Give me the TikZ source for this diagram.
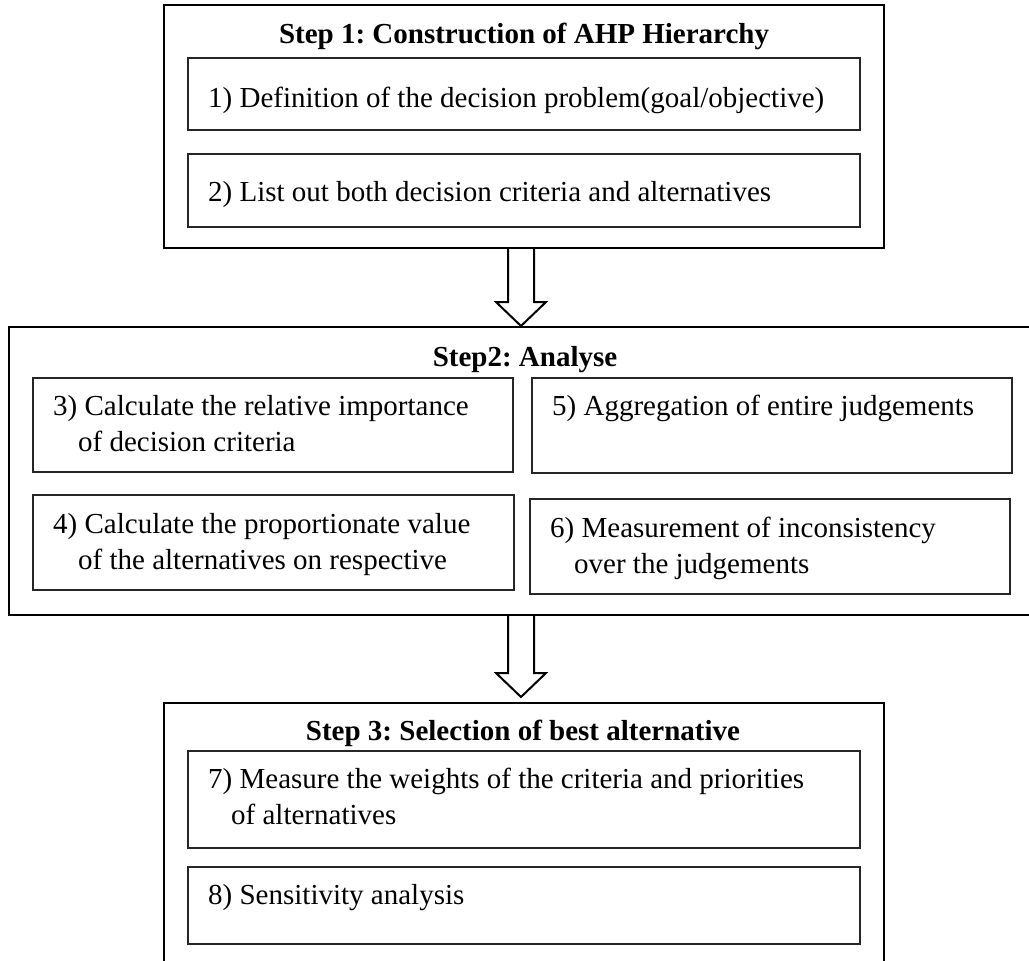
\documentclass[tikz,border=0pt]{standalone}
\usepackage{fontspec}
\setmainfont{Liberation Serif}
\usetikzlibrary{calc}
\frenchspacing

\tikzset{
  stagebox/.style={draw=black, line width=2pt, rectangle, inner sep=0pt},
  taskbox/.style={draw=black!85, line width=1.4pt, rectangle, inner sep=0pt},
  heading/.style={anchor=base, inner sep=0pt, font=\fontsize{29}{36}\selectfont\bfseries},
  % multi-line texts are anchored on the baseline of their last line
  tasktext/.style={anchor=base west, inner sep=0pt, align=left, font=\fontsize{29}{36}\selectfont},
  blockarrow/.style={draw=black, line width=2pt, line join=miter},
}

% hollow down arrow from #1 (top of the shaft) to #2 (tip)
\newcommand{\hollowarrow}[2]{%
  \fill[white] ($(#1)+(-13,0)$) -- ($(#2)+(-13,-24)$) -- ($(#2)+(-25,-24)$) -- (#2)
    -- ($(#2)+(25,-24)$) -- ($(#2)+(13,-24)$) -- ($(#1)+(13,0)$) -- cycle;
  \draw[blockarrow] ($(#1)+(-13,0)$) -- ($(#2)+(-13,-24)$) -- ($(#2)+(-25,-24)$) -- (#2)
    -- ($(#2)+(25,-24)$) -- ($(#2)+(13,-24)$) -- ($(#1)+(13,0)$);
}

\begin{document}
\begin{tikzpicture}[x=1pt, y=-1pt]
\useasboundingbox (0,0) rectangle (1029,961);
\clip (0,0) rectangle (1029,961);

% Step 1
\node[stagebox, minimum width=720pt, minimum height=243pt] (s1) at (524,126.5) {};
\node[heading] (h1) at (524,43) {Step 1: Construction of AHP Hierarchy};
\node[taskbox, minimum width=672pt, minimum height=72pt] (b1) at (524,94) {};
\node[tasktext] (t1) at (208,107) {1) Definition of the decision problem(goal/objective)};
\node[taskbox, minimum width=672pt, minimum height=73pt] (b2) at (524,190.5) {};
\node[tasktext] (t2) at (208,201) {2) List out both decision criteria and alternatives};

% Step 2
\node[stagebox, minimum width=1031pt, minimum height=288pt] (s2) at (524.5,471) {};
\node[heading] (h2) at (525,366) {Step2: Analyse};
\node[taskbox, minimum width=480pt, minimum height=94pt] (b3) at (273,425) {};
\node[tasktext] (t3) at (53,451) {3) Calculate the relative importance\\\hspace*{25pt}of decision criteria};
\node[taskbox, minimum width=481pt, minimum height=95pt] (b4) at (273.5,542.5) {};
\node[tasktext] (t4) at (53,569) {4) Calculate the proportionate value\\\hspace*{25pt}of the alternatives on respective};
\node[taskbox, minimum width=480pt, minimum height=95pt] (b5) at (772,425.5) {};
\node[tasktext] (t5) at (552,415) {5) Aggregation of entire judgements};
\node[taskbox, minimum width=480pt, minimum height=95pt] (b6) at (770,546.5) {};
\node[tasktext] (t6) at (550,573) {6) Measurement of inconsistency\\\hspace*{24pt}over the judgements};

% Step 3
\node[stagebox, minimum width=720pt, minimum height=277pt] (s3) at (524,841.5) {};
\node[heading] (h3) at (523,740) {Step 3: Selection of best alternative};
\node[taskbox, minimum width=672pt, minimum height=97pt] (b7) at (524,799.5) {};
\node[tasktext] (t7) at (208,824) {7) Measure the weights of the criteria and priorities\\\hspace*{23pt}of alternatives};
\node[taskbox, minimum width=672pt, minimum height=77pt] (b8) at (524,905.5) {};
\node[tasktext] (t8) at (208,904) {8) Sensitivity analysis};

% connectors between the stages
\coordinate (a1s) at (s1.south -| 521,0);
\coordinate (a1e) at (s2.north -| 521,0);
\coordinate (a2s) at (s2.south -| 521,0);
\coordinate (a2e) at ($(s3.north -| 521,0)+(0,-5)$);
\hollowarrow{a1s}{a1e}
\hollowarrow{a2s}{a2e}
\end{tikzpicture}
\end{document}
